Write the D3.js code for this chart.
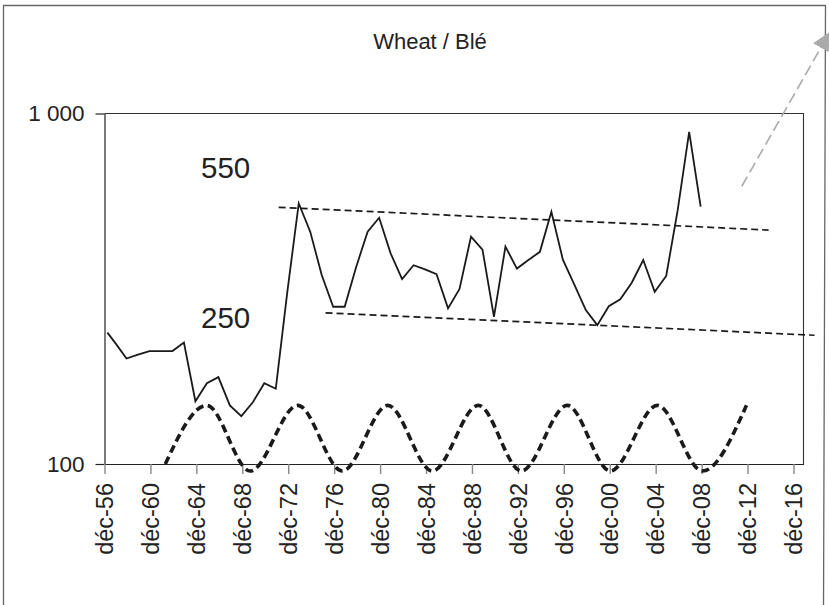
<!DOCTYPE html>
<html>
<head>
<meta charset="utf-8">
<script src="https://cdn.jsdelivr.net/npm/d3@7"></script>
<style>
  html, body { margin: 0; padding: 0; background: #fff; }
  svg { display: block; font-family: "Liberation Sans", Arial, Helvetica, sans-serif; }
</style>
</head>
<body>
<svg id="chart" width="829" height="605"></svg>
<script>
// ---- data -------------------------------------------------------------
const chartTitle = "Wheat / Blé";

// Annual wheat price observations (log scale), one per year from 1957 to 2008
const priceMonths = ["1957-03", ...d3.range(1957, 2009).map(y => `${y}-11`)];
const priceValues = [237, 222, 200, 205, 210, 210, 210, 222, 151, 170, 177, 147, 137, 150, 170, 164,
                     309, 554, 460, 346, 281, 281, 365, 460, 504, 399, 337, 369, 359, 348, 278, 316,
                     445, 409, 263, 417, 361, 382, 403, 524, 383, 325, 275, 249, 282, 295, 329, 382,
                     310, 344, 530, 886, 542];

// Price channel: upper and lower trend lines [month, value]
const channelHigh = [["1972-02", 540], ["2014-10", 465]];
const channelLow  = [["1976-03", 270], ["2018-10", 233]];
const channelLabels = ["550", "250"];

// Cycle curve: turning points (decimal year, value)
const cycleYears  = [1962.21, 1965.82, 1969.61, 1973.75, 1977.63, 1981.59, 1985.47,
                     1989.47, 1993.22, 1997.22, 2000.97, 2005.07, 2008.99, 2012.82];
const cycleValues = [100, 147, 95.5, 147, 95.5, 147, 95.5, 147, 95.5, 147, 95.5, 147, 95.5, 147];

// Axis ticks
const xTickYears  = [1956, 1960, 1964, 1968, 1972, 1976, 1980, 1984, 1988, 1992, 1996, 2000, 2004, 2008, 2012, 2016];
const xTickLabels = ["déc-56", "déc-60", "déc-64", "déc-68", "déc-72", "déc-76", "déc-80", "déc-84",
                     "déc-88", "déc-92", "déc-96", "déc-00", "déc-04", "déc-08", "déc-12", "déc-16"];
const yTickValues = [100, 1000];
const yTickLabels = ["100", "1 000"];

// Trend arrow (grey, dashed) [month, value]
const trendArrow = [["2012-06", 620], ["2020-01", 1690]];

// ---- helpers ----------------------------------------------------------
const monthToYear = s => { const [y, m] = s.split("-").map(Number); return y + (m - 1) / 12; };

// ---- layout -----------------------------------------------------------
const svg = d3.select("#chart");
const W = 829, H = 605;
const plot = { left: 104.5, right: 803.5, top: 113.5, bottom: 464 };

svg.append("rect").attr("width", W).attr("height", H).attr("fill", "#fff");

// outer frame
svg.append("path")
  .attr("d", `M3.5,${H + 5} L3.5,5.5 L825.5,5.5 L823.5,${H + 5}`)
  .attr("fill", "none").attr("stroke", "#666").attr("stroke-width", 1.3);

const x = d3.scaleLinear()
  .domain([1956 + 11 / 12, 2017.79])
  .range([plot.left, plot.right]);

const y = d3.scaleLog()
  .domain([100, 1000])
  .range([plot.bottom, plot.top]);

// plot frame (top and right edges)
svg.append("path")
  .attr("d", `M${plot.left},${plot.top} H${plot.right} V${plot.bottom}`)
  .attr("fill", "none").attr("stroke", "#333").attr("stroke-width", 1.1);

// title
svg.append("text")
  .attr("x", 430).attr("y", 48.5)
  .attr("text-anchor", "middle")
  .attr("font-size", 22).attr("fill", "#222")
  .text(chartTitle);

// y axis
const yAxis = svg.append("g")
  .attr("transform", `translate(${plot.left},0)`)
  .call(d3.axisLeft(y).tickValues(yTickValues)
    .tickFormat((d, i) => yTickLabels[i])
    .tickSize(9).tickSizeOuter(0).tickPadding(11));
yAxis.select(".domain").attr("stroke", "#222").attr("stroke-width", 1.2);
yAxis.selectAll(".tick line").attr("stroke", "#222").attr("stroke-width", 1.2);
yAxis.selectAll(".tick text")
  .attr("font-size", 22.5).attr("fill", "#222")
  .attr("font-family", "Liberation Sans, Arial, sans-serif");

// x axis
const xAxis = svg.append("g")
  .attr("transform", `translate(0,${plot.bottom})`)
  .call(d3.axisBottom(x).tickValues(xTickYears.map(v => v + 11 / 12))
    .tickFormat((d, i) => xTickLabels[i])
    .tickSize(10).tickSizeOuter(0));
xAxis.select(".domain").attr("stroke", "#222").attr("stroke-width", 1.2);
xAxis.selectAll(".tick line").attr("stroke", "#888").attr("stroke-width", 1.4);
xAxis.selectAll(".tick text")
  .attr("font-size", 23.5).attr("fill", "#222")
  .attr("font-family", "Liberation Sans, Arial, sans-serif")
  .attr("transform", "rotate(-90)")
  .attr("text-anchor", "end")
  .attr("x", -19).attr("y", 0).attr("dy", "0.35em");

// channel labels
svg.append("text").attr("x", 201).attr("y", 177.5)
  .attr("font-size", 29.5).attr("fill", "#222").text(channelLabels[0]);
svg.append("text").attr("x", 201).attr("y", 327.5)
  .attr("font-size", 29.5).attr("fill", "#222").text(channelLabels[1]);

// channel lines
const seg = d3.line().x(d => x(monthToYear(d[0]))).y(d => y(d[1]));
[channelHigh, channelLow].forEach(c => {
  svg.append("path").attr("d", seg(c))
    .attr("fill", "none").attr("stroke", "#1a1a1a")
    .attr("stroke-width", 1.7).attr("stroke-dasharray", "7,4");
});

// cycle curve
const cycle = cycleYears.map((yr, i) => [yr, cycleValues[i]]);
svg.append("path")
  .attr("d", d3.line().curve(d3.curveMonotoneX).x(d => x(d[0])).y(d => y(d[1]))(cycle))
  .attr("fill", "none").attr("stroke", "#1a1a1a")
  .attr("stroke-width", 3.6).attr("stroke-dasharray", "8,4.5");

// price line
const prices = priceMonths.map((m, i) => [monthToYear(m), priceValues[i]]);
svg.append("path")
  .attr("d", d3.line().x(d => x(d[0])).y(d => y(d[1]))(prices))
  .attr("fill", "none").attr("stroke", "#1a1a1a")
  .attr("stroke-width", 1.8).attr("stroke-linejoin", "miter");

// trend arrow
svg.append("defs").append("marker")
  .attr("id", "arrowHead").attr("viewBox", "0 0 10 10")
  .attr("refX", 9).attr("refY", 5)
  .attr("markerWidth", 18).attr("markerHeight", 18)
  .attr("markerUnits", "userSpaceOnUse")
  .attr("orient", "auto")
  .append("path").attr("d", "M0,0 L10,5 L0,10 Z").attr("fill", "#aaa");

svg.append("path")
  .attr("d", seg(trendArrow))
  .attr("fill", "none").attr("stroke", "#aaa")
  .attr("stroke-width", 1.6).attr("stroke-dasharray", "11,5")
  .attr("marker-end", "url(#arrowHead)");
</script>
</body>
</html>
